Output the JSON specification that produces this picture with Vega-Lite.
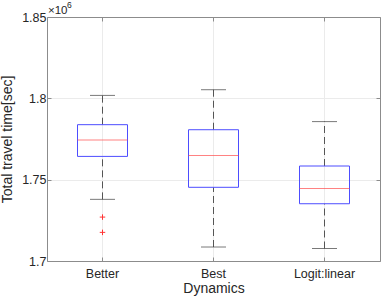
{
  "$schema": "https://vega.github.io/schema/vega-lite/v6.json",
  "autosize": {"type": "none"},
  "padding": {"top": 17, "left": 47, "right": 2, "bottom": 38},
  "width": 333,
  "height": 244,
  "background": "white",
  "datasets": {
    "stats": [
      {"Dynamics": "Better", "lower": 1.7379, "q1": 1.7643, "median": 1.7744, "q3": 1.7838, "upper": 1.8018},
      {"Dynamics": "Best", "lower": 1.7086, "q1": 1.7453, "median": 1.7648, "q3": 1.7807, "upper": 1.8053},
      {"Dynamics": "Logit:linear", "lower": 1.7077, "q1": 1.7352, "median": 1.7446, "q3": 1.7584, "upper": 1.7857}
    ],
    "outliers": [
      {"Dynamics": "Better", "value": 1.727},
      {"Dynamics": "Better", "value": 1.7176}
    ],
    "note": [
      {"Dynamics": "Better", "value": 1.85, "label": "×10"}
    ]
  },
  "config": {
    "view": {"stroke": null},
    "font": "Liberation Sans",
    "axis": {
      "labelFont": "Liberation Sans",
      "titleFont": "Liberation Sans",
      "labelColor": "#262626",
      "titleColor": "#262626",
      "titleFontWeight": "normal",
      "labelFontSize": 12.5,
      "titleFontSize": 14,
      "domainColor": "#8c8c8c",
      "tickColor": "#8c8c8c",
      "gridColor": "#ebebeb",
      "tickSize": -4
    }
  },
  "resolve": {"axis": {"x": "independent", "y": "independent"}},
  "layer": [
    {
      "data": {"name": "stats"},
      "mark": {"type": "rule", "color": "#555555", "strokeDash": [7, 4], "strokeWidth": 1},
      "encoding": {
        "x": {"field": "Dynamics", "type": "nominal", "sort": null,
              "scale": {"type": "band", "paddingInner": 0, "paddingOuter": 0},
              "axis": {"orient": "bottom", "title": "Dynamics", "labelAngle": 0, "bandPosition": 0.5, "grid": true, "labelPadding": 10, "titlePadding": 2}},
        "y": {"field": "lower", "type": "quantitative",
              "scale": {"domain": [1.7, 1.85], "nice": false, "zero": false},
              "axis": {"orient": "left", "title": "Total travel time[sec]", "values": [1.7, 1.75, 1.8, 1.85], "format": "~g", "grid": true, "labelPadding": 5, "titlePadding": 7}},
        "y2": {"field": "q1"}
      }
    },
    {
      "data": {"name": "stats"},
      "mark": {"type": "rule", "color": "#555555", "strokeDash": [7, 4], "strokeWidth": 1},
      "encoding": {
        "x": {"field": "Dynamics", "type": "nominal", "sort": null,
              "axis": {"orient": "top", "title": null, "labels": false, "bandPosition": 0.5, "grid": false}},
        "y": {"field": "q3", "type": "quantitative",
              "axis": {"orient": "right", "title": null, "labels": false, "values": [1.7, 1.75, 1.8, 1.85], "grid": false}},
        "y2": {"field": "upper"}
      }
    },
    {
      "data": {"name": "stats"},
      "mark": {"type": "tick", "color": "#404040", "size": 25, "thickness": 1},
      "encoding": {
        "x": {"field": "Dynamics", "type": "nominal", "sort": null, "axis": null},
        "y": {"field": "upper", "type": "quantitative", "axis": null}
      }
    },
    {
      "data": {"name": "stats"},
      "mark": {"type": "tick", "color": "#404040", "size": 25, "thickness": 1},
      "encoding": {
        "x": {"field": "Dynamics", "type": "nominal", "sort": null, "axis": null},
        "y": {"field": "lower", "type": "quantitative", "axis": null}
      }
    },
    {
      "data": {"name": "stats"},
      "mark": {"type": "bar", "width": 50, "fillOpacity": 0, "stroke": "#4d4dff", "strokeWidth": 1},
      "encoding": {
        "x": {"field": "Dynamics", "type": "nominal", "sort": null, "axis": null},
        "y": {"field": "q1", "type": "quantitative", "axis": null},
        "y2": {"field": "q3"}
      }
    },
    {
      "data": {"name": "stats"},
      "mark": {"type": "tick", "color": "#ff4d4d", "size": 50, "thickness": 1},
      "encoding": {
        "x": {"field": "Dynamics", "type": "nominal", "sort": null, "axis": null},
        "y": {"field": "median", "type": "quantitative", "axis": null}
      }
    },
    {
      "data": {"name": "outliers"},
      "mark": {"type": "point", "shape": "M-1,0L1,0M0,-1L0,1", "filled": false, "stroke": "#ff3333", "strokeWidth": 1, "size": 30, "opacity": 1},
      "encoding": {
        "x": {"field": "Dynamics", "type": "nominal", "sort": null, "axis": null},
        "y": {"field": "value", "type": "quantitative", "axis": null}
      }
    },
    {
      "data": {"name": "note"},
      "mark": {"type": "text", "align": "left", "baseline": "alphabetic", "dx": 1, "dy": -3, "fontSize": 11.5, "color": "#262626", "font": "Liberation Sans"},
      "encoding": {
        "x": {"field": "Dynamics", "type": "nominal", "sort": null, "bandPosition": 0, "axis": null},
        "y": {"field": "value", "type": "quantitative", "axis": null},
        "text": {"field": "label"}
      }
    },
    {
      "data": {"name": "note"},
      "mark": {"type": "text", "align": "left", "baseline": "alphabetic", "dx": 20, "dy": -9, "fontSize": 8.5, "color": "#262626", "font": "Liberation Sans", "text": "6"},
      "encoding": {
        "x": {"field": "Dynamics", "type": "nominal", "sort": null, "bandPosition": 0, "axis": null},
        "y": {"field": "value", "type": "quantitative", "axis": null}
      }
    }
  ]
}
